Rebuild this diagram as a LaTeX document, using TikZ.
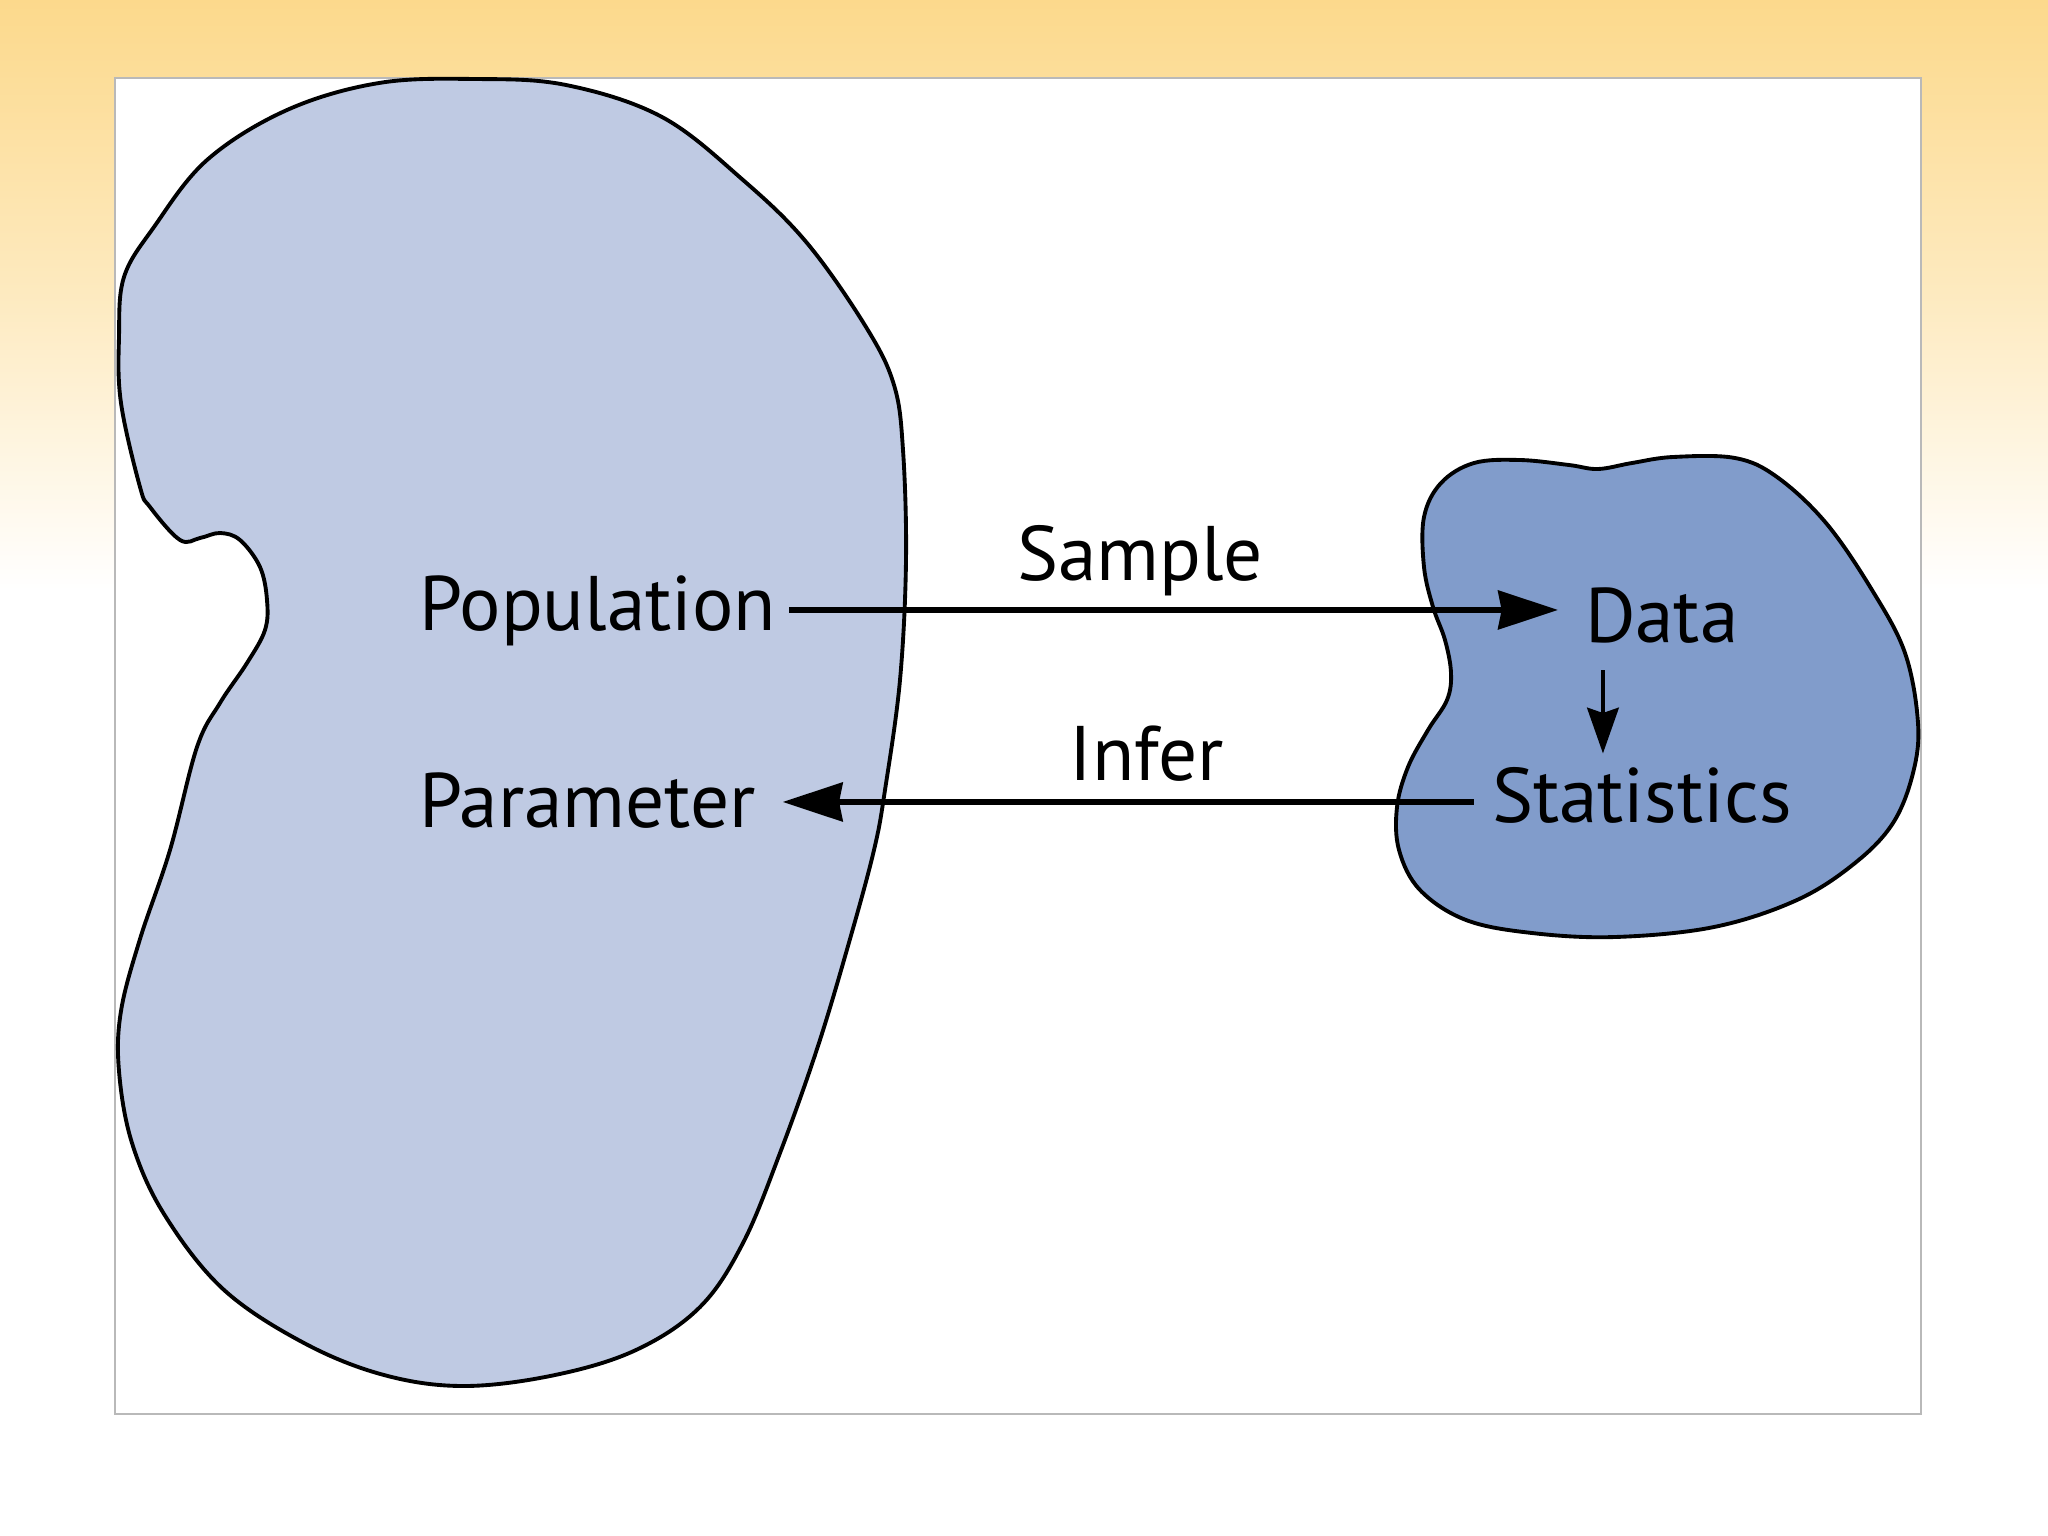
\documentclass[tikz,border=0pt]{standalone}
\usepackage{fontspec}
\setmainfont{PT Sans}
\usetikzlibrary{positioning,arrows.meta}
\definecolor{popblue}{HTML}{BFCAE3}
\definecolor{sampblue}{HTML}{819CCB}
\definecolor{bgorange}{HTML}{FCD98C}

\begin{document}
\begin{tikzpicture}[x=0.01cm,y=-0.01cm,font=\fontsize{22}{26}\selectfont,
  lbl/.style={anchor=base west,inner sep=3.5pt,text height=15.8pt,text depth=4.4pt},
  blob/.style={draw=black,line width=1.1pt},
  arr/.style={line width=1.6pt,-{Stealth[length=17pt,width=11pt,inset=1pt]}},
  arrthin/.style={line width=1.1pt,-{Stealth[length=13pt,width=9pt,inset=1.5pt]}}]
\useasboundingbox (0,0) rectangle (2048,1536);
\fill[white] (0,0) rectangle (2048,1536);
\shade[top color=bgorange,bottom color=white,middle color=bgorange!55] (0,0) rectangle (2048,590);
\draw[gray!55,line width=0.6pt,fill=white] (115,78) rectangle (1921,1414);
% population
\draw[blob,fill=popblue] plot[smooth cycle,tension=0.6] coordinates {
  (475,79) (566,85) (662,117) (743,180) (807,243) (866,327) (894,385) (903,450)
  (906,560) (900,680) (885,790) (874,850) (850,939) (818,1046) (780,1153)
  (743,1243) (700,1307) (636,1350) (555,1375) (464,1386) (384,1375) (304,1343)
  (223,1289) (164,1214) (132,1143) (119,1071) (121,1011) (140,939) (170,850)
  (197,747) (220,703) (247,663) (265,630) (267,600) (260,567) (240,540)
  (220,533) (200,538) (180,540) (150,507) (140,487) (121,403) (119,337)
  (124,277) (154,227) (207,160) (287,110) (379,83)};
% sample
\draw[blob,fill=sampblue] plot[smooth cycle,tension=0.6] coordinates {
  (1474,463) (1520,460) (1569,465) (1598,469) (1632,463) (1673,457) (1735,458)
  (1777,477) (1826,523) (1872,590) (1905,653) (1918,723) (1913,773) (1893,823)
  (1855,863) (1797,900) (1714,927) (1615,937) (1532,933) (1466,920) (1420,890)
  (1399,850) (1397,807) (1408,767) (1428,730) (1447,700) (1451,673) (1445,640)
  (1433,607) (1424,567) (1424,517) (1441,483)};

\node[lbl] (pop) at (406,630) {Population};
\node[lbl] (par) at (406,827) {Parameter};
\node[lbl] (data) at (1572,642) {Data};
\node[lbl] (stat) at (1479,822) {Statistics};
\node[lbl,anchor=base] (samp) at (1140,580) {Sample};
\node[lbl,anchor=base] (inf) at (1147,780) {Infer};

\draw[arr,shorten >=4pt] (pop.east) -- (pop.east -| data.west);
\draw[arr,shorten <=1.5pt,shorten >=4pt] (stat.west) -- (stat.west -| par.east);
\draw[arrthin] ([xshift=8.8pt]data.south west) -- ([xshift=8.8pt]data.south west |- stat.north);
\end{tikzpicture}
\end{document}
